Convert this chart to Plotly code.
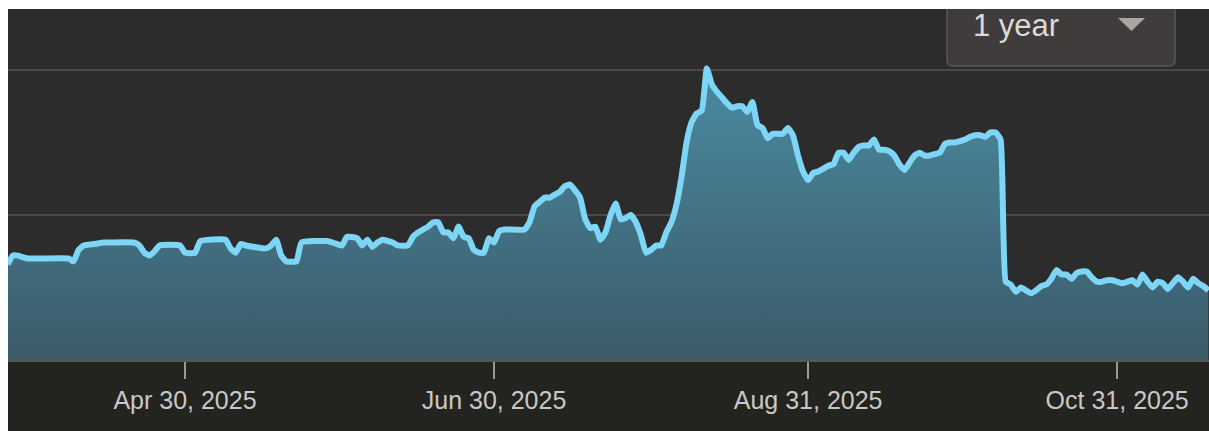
import plotly.graph_objects as go

dates = [
    "2025-03-26", "2025-03-27", "2025-03-28", "2025-03-30", "2025-04-07", "2025-04-08", "2025-04-09",
    "2025-04-10", "2025-04-12", "2025-04-14", "2025-04-15", "2025-04-20", "2025-04-21", "2025-04-22",
    "2025-04-23", "2025-04-24", "2025-04-25", "2025-04-29", "2025-04-30", "2025-05-02", "2025-05-03",
    "2025-05-08", "2025-05-09", "2025-05-10", "2025-05-11", "2025-05-12", "2025-05-16", "2025-05-17",
    "2025-05-18", "2025-05-19", "2025-05-20", "2025-05-22", "2025-05-23", "2025-05-28", "2025-05-30",
    "2025-05-31", "2025-06-01", "2025-06-03", "2025-06-04", "2025-06-05", "2025-06-06", "2025-06-07",
    "2025-06-08", "2025-06-10", "2025-06-11", "2025-06-13", "2025-06-14", "2025-06-15", "2025-06-16",
    "2025-06-17", "2025-06-18", "2025-06-19", "2025-06-20", "2025-06-21", "2025-06-22", "2025-06-23",
    "2025-06-24", "2025-06-25", "2025-06-26", "2025-06-27", "2025-06-28", "2025-06-29", "2025-06-30",
    "2025-07-01", "2025-07-02", "2025-07-06", "2025-07-07", "2025-07-08", "2025-07-09", "2025-07-10",
    "2025-07-11", "2025-07-12", "2025-07-13", "2025-07-14", "2025-07-15", "2025-07-16", "2025-07-17",
    "2025-07-18", "2025-07-19", "2025-07-20", "2025-07-21", "2025-07-22", "2025-07-23", "2025-07-24",
    "2025-07-25", "2025-07-26", "2025-07-27", "2025-07-28", "2025-07-29", "2025-07-30", "2025-07-31",
    "2025-08-01", "2025-08-02", "2025-08-03", "2025-08-04", "2025-08-05", "2025-08-06", "2025-08-07",
    "2025-08-08", "2025-08-09", "2025-08-10", "2025-08-11", "2025-08-12", "2025-08-13", "2025-08-14",
    "2025-08-15", "2025-08-16", "2025-08-17", "2025-08-18", "2025-08-19", "2025-08-20", "2025-08-21",
    "2025-08-22", "2025-08-23", "2025-08-24", "2025-08-25", "2025-08-26", "2025-08-27", "2025-08-28",
    "2025-08-29", "2025-08-30", "2025-08-31", "2025-09-01", "2025-09-02", "2025-09-03", "2025-09-04",
    "2025-09-05", "2025-09-06", "2025-09-07", "2025-09-08", "2025-09-09", "2025-09-10", "2025-09-11",
    "2025-09-12", "2025-09-13", "2025-09-14", "2025-09-15", "2025-09-16", "2025-09-17", "2025-09-18",
    "2025-09-19", "2025-09-20", "2025-09-21", "2025-09-22", "2025-09-23", "2025-09-24", "2025-09-25",
    "2025-09-26", "2025-09-27", "2025-09-28", "2025-09-29", "2025-09-30", "2025-10-01", "2025-10-02",
    "2025-10-03", "2025-10-04", "2025-10-05", "2025-10-06", "2025-10-07", "2025-10-08", "2025-10-09",
    "2025-10-10", "2025-10-11", "2025-10-12", "2025-10-13", "2025-10-14", "2025-10-15", "2025-10-16",
    "2025-10-17", "2025-10-18", "2025-10-19", "2025-10-20", "2025-10-21", "2025-10-22", "2025-10-23",
    "2025-10-24", "2025-10-25", "2025-10-26", "2025-10-27", "2025-10-28", "2025-10-29", "2025-10-30",
    "2025-10-31", "2025-11-01", "2025-11-02", "2025-11-03", "2025-11-04", "2025-11-05", "2025-11-06",
    "2025-11-07", "2025-11-08", "2025-11-09", "2025-11-10", "2025-11-11", "2025-11-12", "2025-11-13",
    "2025-11-14", "2025-11-15", "2025-11-16", "2025-11-17", "2025-11-18",
]

values = [
    66, 72, 72, 70, 70, 68, 76,
    79, 80, 81, 81, 81, 79, 74,
    72, 75, 79, 79, 74, 74, 82,
    83, 77, 74, 80, 79, 77, 79,
    83, 72, 68, 68, 81, 82, 80,
    79, 85, 84, 79, 83, 78, 81,
    83, 81, 79, 79, 85, 88, 90,
    92, 95, 95, 88, 88, 84, 92,
    85, 84, 76, 74, 74, 84, 81,
    89, 90, 90, 95, 106, 109, 112,
    112, 114, 116, 120, 121, 117, 112,
    97, 91, 92, 83, 88, 100, 108,
    97, 98, 100, 95, 86, 74, 76,
    79, 79, 88, 95, 107, 126, 150,
    164, 170, 172, 201, 190, 185, 181,
    177, 174, 175, 175, 171, 178, 162,
    160, 153, 156, 156, 156, 160, 155,
    141, 130, 124, 129, 130, 132, 134,
    135, 143, 143, 138, 143, 147, 148,
    148, 152, 145, 145, 144, 141, 135,
    131, 136, 141, 143, 141, 141, 142,
    143, 149, 150, 150, 151, 152, 154,
    155, 155, 154, 157, 157, 152, 54,
    52, 47, 50, 48, 46, 48, 51,
    52, 56, 62, 59, 59, 56, 60,
    61, 61, 57, 54, 54, 55, 55,
    54, 53, 54, 55, 52, 59, 54,
    50, 54, 53, 49, 53, 57, 54,
    50, 56, 53, 51, 48,
]

tick_dates = ["2025-04-30", "2025-06-30", "2025-08-31", "2025-10-31"]
tick_labels = ["Apr 30, 2025", "Jun 30, 2025", "Aug 31, 2025", "Oct 31, 2025"]
grid_values = [100, 200]
range_label = "1 year"

# body margin is removed in post_script, so figure pixels == page pixels
W, H = 1209, 431
PLOT_LEFT, PLOT_TOP, PLOT_BOTTOM = 8, 9, 360
ML, MT, MB, MR = PLOT_LEFT, PLOT_TOP, H - PLOT_BOTTOM, 0
PW = W - ML - MR
PH = PLOT_BOTTOM - PLOT_TOP


def px_x(p):
    return (p - PLOT_LEFT) / PW


def px_y(p):
    return (PLOT_BOTTOM - p) / PH


fig = go.Figure()
fig.add_trace(go.Scatter(
    x=dates, y=values, mode="lines",
    line=dict(color="#7ed6f6", width=6, shape="spline", smoothing=0.4),
    fill="tozeroy",
    fillgradient=dict(type="vertical", start=0, stop=200,
                      colorscale=[[0, "#3b5b69"], [1, "#4a8aa1"]]),
    hoverinfo="skip", showlegend=False,
))

shapes = [
    dict(type="rect", xref="paper", yref="paper", x0=0, x1=1, y0=px_y(H), y1=0,
         fillcolor="#23231f", line=dict(width=0), layer="below"),
]

bx0, bx1, by0, by1, r = 947, 1175, 6, 66, 6
path = (f"M {px_x(bx0)},{px_y(by0)} L {px_x(bx0)},{px_y(by1 - r)} "
        f"Q {px_x(bx0)},{px_y(by1)} {px_x(bx0 + r)},{px_y(by1)} "
        f"L {px_x(bx1 - r)},{px_y(by1)} Q {px_x(bx1)},{px_y(by1)} {px_x(bx1)},{px_y(by1 - r)} "
        f"L {px_x(bx1)},{px_y(by0)} Z")
shapes.append(dict(type="path", xref="paper", yref="paper", path=path,
                   fillcolor="#403c3b", line=dict(color="#5a5655", width=1.5), layer="above"))
tri = (f"M {px_x(1118)},{px_y(18)} L {px_x(1145)},{px_y(18)} L {px_x(1131.5)},{px_y(31)} Z")
shapes.append(dict(type="path", xref="paper", yref="paper", path=tri,
                   fillcolor="#a9a6a4", line=dict(width=0), layer="above"))
shapes.append(dict(type="rect", xref="paper", yref="paper", x0=0, x1=1, y0=1, y1=px_y(0),
                   fillcolor="white", line=dict(width=0), layer="above"))

fig.update_layout(
    width=W, height=H,
    margin=dict(l=ML, r=MR, t=MT, b=MB, pad=0),
    paper_bgcolor="white",
    plot_bgcolor="#2c2c2c",
    shapes=shapes,
    annotations=[dict(text=range_label, xref="paper", yref="paper",
                      x=px_x(971), y=px_y(25), xanchor="left", yanchor="middle",
                      showarrow=False,
                      font=dict(family="Liberation Sans, Arial, sans-serif", size=31, color="#dcdad8"))],
    xaxis=dict(
        range=["2025-03-26 01:30", "2025-11-18 03:00"],
        tickmode="array", tickvals=tick_dates, ticktext=tick_labels,
        ticks="outside", ticklen=17, tickwidth=2, tickcolor="#9a9a98",
        tickfont=dict(family="Liberation Sans, Arial, sans-serif", size=25, color="#c9c8c6"),
        showgrid=False, zeroline=False,
        showline=True, linecolor="#5a5857", linewidth=2,
        fixedrange=True,
    ),
    yaxis=dict(
        range=[0, (PLOT_BOTTOM - PLOT_TOP) / 1.45],
        tickmode="array", tickvals=grid_values, showticklabels=False,
        showgrid=True, gridcolor="#4d4948", gridwidth=1.5,
        zeroline=False, showline=False, fixedrange=True,
    ),
)

fig.write_html(
    "out.html",
    config={"displayModeBar": False},
    post_script="document.body.style.margin='0';document.documentElement.style.overflow='hidden';",
)
